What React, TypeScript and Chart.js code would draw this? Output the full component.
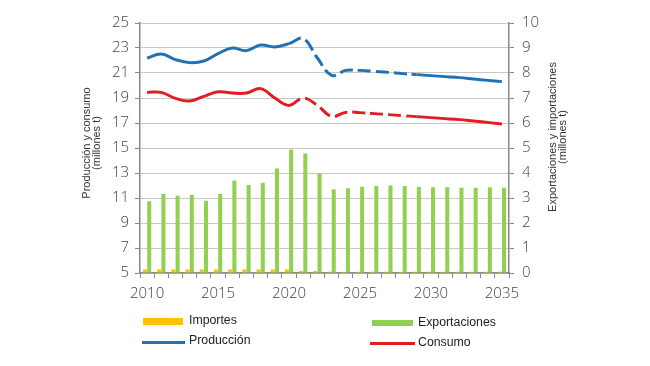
import React, { useEffect, useRef } from "react";
import { Chart, registerables } from "chart.js";

Chart.register(...registerables);

const years = ["2010","2011","2012","2013","2014","2015","2016","2017","2018","2019","2020","2021","2022","2023","2024","2025","2026","2027","2028","2029","2030","2031","2032","2033","2034","2035"];

const produccion = [22.2,22.52,22.07,21.83,21.96,22.55,23.0,22.79,23.24,23.08,23.35,23.75,22.2,20.81,21.21,21.21,21.13,21.05,20.95,20.87,20.79,20.71,20.63,20.52,20.41,20.31];
const consumo = [19.45,19.45,18.97,18.76,19.13,19.5,19.4,19.4,19.75,19.0,18.41,19.0,18.41,17.53,17.85,17.83,17.75,17.67,17.59,17.51,17.43,17.35,17.27,17.16,17.05,16.92];
const exportaciones = [2.87,3.16,3.09,3.13,2.89,3.16,3.7,3.52,3.61,4.18,4.94,4.78,3.98,3.35,3.39,3.45,3.48,3.5,3.48,3.44,3.43,3.43,3.41,3.41,3.43,3.41];
const importes = [0.14,0.14,0.14,0.14,0.14,0.14,0.14,0.14,0.14,0.14,0.14,0.08,0.08,0.05,0.05,0.05,0.05,0.05,0.05,0.05,0.05,0.05,0.05,0.05,0.05,0.05];

const leftTitle = ["Producción y consumo", "(millones t)"];
const rightTitle = ["Exportaciones y importaciones", "(millones t)"];

const BLUE = "#2271b3";
const RED = "#e31b23";
const GREEN = "#92d050";
const YELLOW = "#ffc000";

const tickFont = { family: '"Open Sans", "DejaVu Sans", sans-serif', size: 15, weight: 300 as any };

const titlesPlugin = {
  id: "axisTitles",
  afterDraw(chart: any) {
    const ctx = chart.ctx;
    ctx.save();
    ctx.font = '11px "Liberation Sans", Arial, sans-serif';
    ctx.fillStyle = "#333";
    ctx.textAlign = "center";
    ctx.textBaseline = "middle";
    ctx.translate(87, 143);
    ctx.rotate(-Math.PI / 2);
    ctx.fillText(leftTitle[0], 0, 0);
    ctx.fillText(leftTitle[1], 0, 10);
    ctx.restore();
    ctx.save();
    ctx.font = '11px "Liberation Sans", Arial, sans-serif';
    ctx.fillStyle = "#333";
    ctx.textAlign = "center";
    ctx.textBaseline = "middle";
    ctx.translate(553, 137);
    ctx.rotate(-Math.PI / 2);
    ctx.fillText(rightTitle[0], 0, 0);
    ctx.fillText(rightTitle[1], 0, 10);
    ctx.restore();
  },
};

const dashSeg = (ctx: any) =>
  ctx.p0DataIndex >= 10 && ctx.p0DataIndex < 19 ? [13, 5] : undefined;

export default function App() {
  const ref = useRef<HTMLCanvasElement>(null);
  useEffect(() => {
    if (!ref.current) return;
    const chart = new Chart(ref.current, {
      type: "bar",
      data: {
        labels: years,
        datasets: [
          {
            type: "line",
            label: "Producción",
            data: produccion,
            yAxisID: "y",
            borderColor: BLUE,
            borderWidth: 3,
            pointRadius: 0,
            tension: 0.4,
            fill: false,
            segment: { borderDash: dashSeg },
            order: 0,
          } as any,
          {
            type: "line",
            label: "Consumo",
            data: consumo,
            yAxisID: "y",
            borderColor: RED,
            borderWidth: 3,
            pointRadius: 0,
            tension: 0.4,
            fill: false,
            segment: { borderDash: dashSeg },
            order: 0,
          } as any,
          {
            type: "bar",
            label: "Importes",
            data: importes,
            yAxisID: "y1",
            backgroundColor: YELLOW,
            categoryPercentage: 0.6,
            barPercentage: 0.95,
            order: 1,
          },
          {
            type: "bar",
            label: "Exportaciones",
            data: exportaciones,
            yAxisID: "y1",
            backgroundColor: GREEN,
            categoryPercentage: 0.6,
            barPercentage: 0.95,
            order: 1,
          },
        ],
      },
      options: {
        responsive: false,
        animation: false,
        layout: { padding: { top: 23, left: 0, right: 0, bottom: 0 } },
        plugins: { legend: { display: false }, tooltip: { enabled: false } },
        scales: {
          x: {
            offset: true,
            grid: { display: true, drawOnChartArea: false, offset: true, color: "#888", tickLength: 5 },
            border: { color: "#888", width: 1.5 },
            ticks: {
              autoSkip: false,
              maxRotation: 0,
              color: "#444",
              font: tickFont,
              padding: 7,
              callback: (v: any, i: number) => (Number(years[i]) % 5 === 0 ? years[i] : ""),
            },
            afterFit: (s: any) => { s.height = 93; },
          },
          y: {
            position: "left",
            min: 5,
            max: 25,
            ticks: { stepSize: 2, color: "#444", font: tickFont, padding: 6 },
            grid: { color: "#c8c8c8", lineWidth: 1, tickLength: 5, tickColor: "#888" },
            border: { color: "#888", width: 1.5 },
            afterFit: (s: any) => { s.width = 140; },
          },
          y1: {
            position: "right",
            min: 0,
            max: 10,
            ticks: { stepSize: 1, color: "#444", font: tickFont, padding: 8 },
            grid: { drawOnChartArea: false, tickLength: 5, color: "#888" },
            border: { color: "#888", width: 1.5 },
            afterFit: (s: any) => { s.width = 141; },
          },
        },
      },
      plugins: [titlesPlugin],
    });
    return () => chart.destroy();
  }, []);

  const txt: React.CSSProperties = {
    position: "absolute",
    font: '12.3px "Liberation Sans", Arial, sans-serif',
    color: "#222",
    lineHeight: "14px",
    whiteSpace: "nowrap",
  };
  const sw = (left: number, top: number, w: number, h: number, c: string): React.CSSProperties => ({
    position: "absolute", left, top, width: w, height: h, background: c,
  });

  return (
    <div style={{ position: "fixed", left: 0, top: 0, width: 650, height: 366, background: "#fff" }}>
      <canvas ref={ref} width={650} height={366} style={{ display: "block" }} />
      <div style={sw(143, 318, 40, 7, YELLOW)} />
      <div style={{ ...txt, left: 189, top: 313 }}>Importes</div>
      <div style={sw(142, 341, 43, 2.5, BLUE)} />
      <div style={{ ...txt, left: 189, top: 333 }}>Producción</div>
      <div style={sw(372, 320, 41, 6, GREEN)} />
      <div style={{ ...txt, left: 418, top: 315 }}>Exportaciones</div>
      <div style={sw(370, 342, 45, 2.5, RED)} />
      <div style={{ ...txt, left: 418, top: 335 }}>Consumo</div>
    </div>
  );
}
